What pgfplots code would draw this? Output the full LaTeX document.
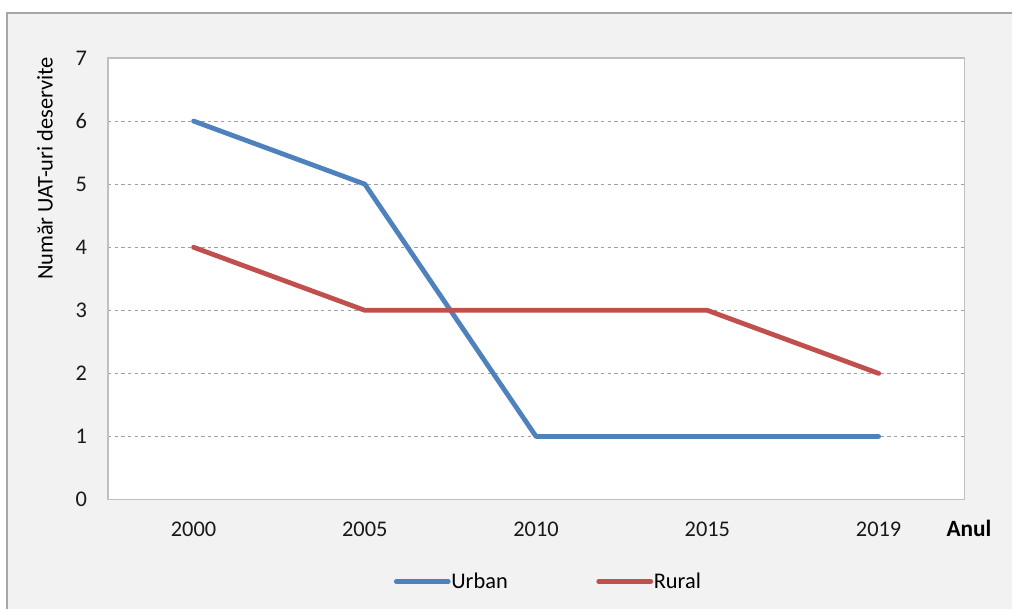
\documentclass[border=0pt]{standalone}
\usepackage{pgfplots}
\pgfplotsset{compat=1.18}
\usepackage{fontspec}
\setmainfont{Carlito}
\definecolor{cblue}{HTML}{4F81BD}
\definecolor{cred}{HTML}{C0504D}
\definecolor{bgc}{HTML}{F2F2F2}
\definecolor{framec}{HTML}{A6A6A6}
\definecolor{axc}{HTML}{BFBFBF}
\begin{document}
\begin{tikzpicture}[x=1pt,y=1pt]
\fill[white] (-81,-81.75) rectangle (678.75,375);
\fill[bgc] (-75.75,-81.75) rectangle (678.75,365.25);
\draw[framec, line width=1.2pt] (-75.75,-81.75) -- (-75.75,365.25) -- (678.75,365.25);
\begin{axis}[
  at={(0,0)}, anchor=south west,
  scale only axis, width=642.75pt, height=331.5pt,
  xmin=-0.5, xmax=4.5, ymin=0, ymax=7,
  xtick={0,1,2,3,4}, xticklabels={2000,2005,2010,2015,2019},
  ytick={0,1,2,3,4,5,6,7},
  major tick length=0pt,
  axis background/.style={fill=white},
  axis line style={draw=axc, line width=1.1pt},
  ymajorgrids,
  grid style={draw=gray!75, dash pattern=on 2.5pt off 2.5pt, line width=0.6pt},
  /pgf/number format/assume math mode=true,
  tick label style={font=\fontsize{16.8}{19}\selectfont, text=black!90},
  yticklabel style={anchor=east, inner sep=0pt, xshift=-15.5pt},
  xticklabel style={anchor=base, inner sep=0pt, yshift=-27.5pt},
  xlabel={\textbf{Anul}},
  every axis x label/.style={at={(axis description cs:1,0)}, anchor=base west, inner sep=0pt, xshift=-13.5pt, yshift=-27.5pt, font=\fontsize{17.5}{19}\selectfont},
  ylabel={Număr UAT-uri deservite},
  every axis y label/.style={at={(axis description cs:0,0.75)}, xshift=-47.25pt, rotate=90, anchor=center, font=\fontsize{16.8}{19}\selectfont},
  legend style={at={(axis description cs:0.3337,0)}, anchor=west, yshift=-61.5pt,
    draw=none, fill=none, legend columns=2, font=\fontsize{16.8}{19}\selectfont,
    inner sep=0pt, nodes={inner sep=0.5pt},
    /tikz/every even column/.append style={column sep=66pt}},
  legend image code/.code={\draw[#1] (0pt,0pt) -- (39pt,0pt);},
]
\addplot[cblue, line width=3.6pt, line join=round, line cap=round] coordinates {(0,6) (1,5) (2,1) (3,1) (4,1)};
\addlegendentry{Urban}
\addplot[cred, line width=3.6pt, line join=round, line cap=round] coordinates {(0,4) (1,3) (2,3) (3,3) (4,2)};
\addlegendentry{Rural}
\end{axis}
\end{tikzpicture}
\end{document}
